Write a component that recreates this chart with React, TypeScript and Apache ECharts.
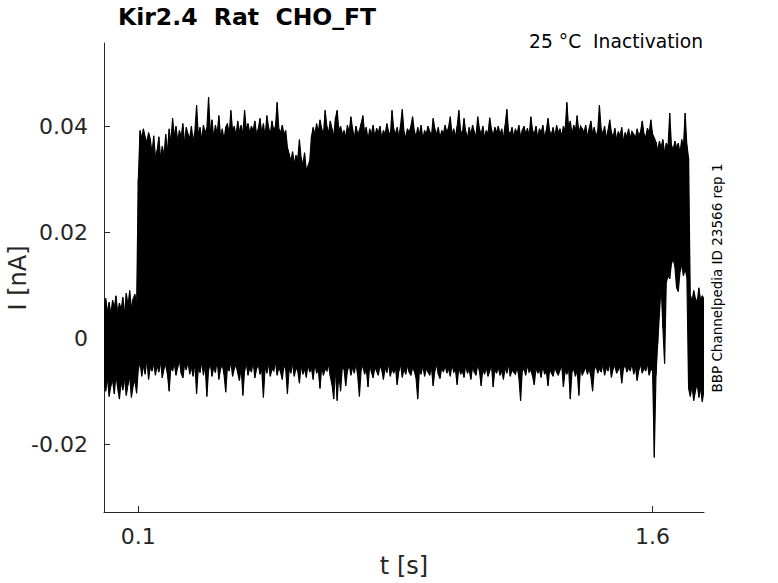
import React, { useEffect, useRef } from "react";
import * as echarts from "echarts";

// Sampling grid of the sweeps [s]
const timeStep = 0.005;
const sampleCount = 351;

// Upper envelope (max over all sweeps) of I [nA]
const upperEnvelope = [
  0.0060, 0.0075, 0.0050, 0.0068, 0.0045, 0.0072, 0.0058, 0.0080, 0.0048, 0.0066,
  0.0054, 0.0077, 0.0046, 0.0085, 0.0062, 0.0090, 0.0057, 0.0074, 0.0083, 0.0061,
  0.0300, 0.0392, 0.0378, 0.0395, 0.0380, 0.0370, 0.0388, 0.0376, 0.0350, 0.0382,
  0.0342, 0.0355, 0.0380, 0.0340, 0.0362, 0.0345, 0.0385, 0.0352, 0.0395, 0.0370,
  0.0415, 0.0382, 0.0400, 0.0372, 0.0392, 0.0380, 0.0405, 0.0368, 0.0398, 0.0385,
  0.0378, 0.0400, 0.0372, 0.0390, 0.0440, 0.0385, 0.0398, 0.0375, 0.0402, 0.0388,
  0.0396, 0.0455, 0.0390, 0.0412, 0.0378, 0.0402, 0.0385, 0.0420, 0.0380, 0.0395,
  0.0375, 0.0398, 0.0405, 0.0385, 0.0430, 0.0392, 0.0400, 0.0382, 0.0410, 0.0390,
  0.0402, 0.0385, 0.0430, 0.0395, 0.0405, 0.0388, 0.0400, 0.0392, 0.0410, 0.0385,
  0.0395, 0.0415, 0.0388, 0.0405, 0.0380, 0.0420, 0.0398, 0.0385, 0.0410, 0.0392,
  0.0400, 0.0445, 0.0395, 0.0388, 0.0402, 0.0385, 0.0392, 0.0360, 0.0348, 0.0335,
  0.0352, 0.0330, 0.0345, 0.0338, 0.0375, 0.0340, 0.0328, 0.0350, 0.0318, 0.0325,
  0.0335, 0.0380, 0.0398, 0.0385, 0.0405, 0.0390, 0.0412, 0.0395, 0.0385, 0.0430,
  0.0400, 0.0388, 0.0410, 0.0395, 0.0382, 0.0415, 0.0430, 0.0392, 0.0400, 0.0385,
  0.0392, 0.0380, 0.0402, 0.0388, 0.0418, 0.0395, 0.0378, 0.0400, 0.0385, 0.0392,
  0.0405, 0.0420, 0.0388, 0.0398, 0.0375, 0.0395, 0.0385, 0.0402, 0.0380, 0.0396,
  0.0388, 0.0400, 0.0378, 0.0392, 0.0385, 0.0405, 0.0390, 0.0382, 0.0430, 0.0395,
  0.0385, 0.0398, 0.0380, 0.0402, 0.0432, 0.0390, 0.0378, 0.0395, 0.0388, 0.0400,
  0.0418, 0.0392, 0.0380, 0.0398, 0.0385, 0.0402, 0.0376, 0.0392, 0.0385, 0.0400,
  0.0390, 0.0382, 0.0415, 0.0395, 0.0385, 0.0398, 0.0378, 0.0392, 0.0386, 0.0402,
  0.0388, 0.0398, 0.0418, 0.0385, 0.0395, 0.0380, 0.0400, 0.0430, 0.0392, 0.0385,
  0.0415, 0.0390, 0.0378, 0.0398, 0.0385, 0.0402, 0.0390, 0.0380, 0.0418, 0.0395,
  0.0385, 0.0400, 0.0378, 0.0392, 0.0386, 0.0416, 0.0395, 0.0382, 0.0398, 0.0388,
  0.0400, 0.0385, 0.0395, 0.0378, 0.0402, 0.0432, 0.0390, 0.0385, 0.0398, 0.0380,
  0.0395, 0.0386, 0.0402, 0.0380, 0.0392, 0.0400, 0.0385, 0.0396, 0.0382, 0.0418,
  0.0392, 0.0385, 0.0400, 0.0378, 0.0395, 0.0388, 0.0402, 0.0380, 0.0392, 0.0415,
  0.0390, 0.0385, 0.0398, 0.0380, 0.0402, 0.0388, 0.0395, 0.0382, 0.0400, 0.0392,
  0.0445, 0.0398, 0.0410, 0.0385, 0.0402, 0.0392, 0.0420, 0.0388, 0.0400, 0.0395,
  0.0388, 0.0402, 0.0380, 0.0395, 0.0410, 0.0386, 0.0398, 0.0380, 0.0392, 0.0440,
  0.0395, 0.0385, 0.0400, 0.0378, 0.0392, 0.0412, 0.0388, 0.0380, 0.0396, 0.0375,
  0.0390, 0.0382, 0.0398, 0.0372, 0.0388, 0.0380, 0.0395, 0.0378, 0.0390, 0.0385,
  0.0378, 0.0395, 0.0382, 0.0390, 0.0410, 0.0385, 0.0380, 0.0396, 0.0388, 0.0412,
  0.0385, 0.0378, 0.0370, 0.0355, 0.0372, 0.0360, 0.0375, 0.0350, 0.0368, 0.0362,
  0.0425, 0.0365, 0.0355, 0.0372, 0.0360, 0.0368, 0.0350, 0.0375, 0.0362, 0.0425,
  0.0365, 0.0340,
  0.0082, 0.0070, 0.0090, 0.0075, 0.0068, 0.0095, 0.0072, 0.0080, 0.0074,
];

// Lower envelope (min over all sweeps) of I [nA]
const lowerEnvelope = [
  -0.0085, -0.0100, -0.0075, -0.0110, -0.0090, -0.0080, -0.0105, -0.0070, -0.0095, -0.0115,
  -0.0082, -0.0098, -0.0076, -0.0108, -0.0088, -0.0073, -0.0112, -0.0090, -0.0080, -0.0104,
  -0.0060, -0.0045, -0.0072, -0.0052, -0.0068, -0.0040, -0.0078, -0.0055, -0.0062, -0.0048,
  -0.0070, -0.0052, -0.0064, -0.0045, -0.0075, -0.0058, -0.0050, -0.0068, -0.0100, -0.0055,
  -0.0062, -0.0048, -0.0070, -0.0055, -0.0042, -0.0066, -0.0075, -0.0050, -0.0060, -0.0045,
  -0.0068, -0.0055, -0.0072, -0.0048, -0.0105, -0.0058, -0.0065, -0.0045, -0.0070, -0.0052,
  -0.0110, -0.0060, -0.0048, -0.0072, -0.0055, -0.0065, -0.0042, -0.0078, -0.0058, -0.0050,
  -0.0068, -0.0102, -0.0055, -0.0062, -0.0045, -0.0072, -0.0058, -0.0050, -0.0066, -0.0080,
  -0.0055, -0.0108, -0.0062, -0.0048, -0.0070, -0.0056, -0.0064, -0.0045, -0.0075, -0.0058,
  -0.0050, -0.0068, -0.0060, -0.0112, -0.0055, -0.0066, -0.0048, -0.0072, -0.0058, -0.0062,
  -0.0045, -0.0070, -0.0055, -0.0064, -0.0078, -0.0050, -0.0060, -0.0105, -0.0058, -0.0066,
  -0.0048, -0.0072, -0.0056, -0.0062, -0.0085, -0.0052, -0.0068, -0.0058, -0.0074, -0.0050,
  -0.0064, -0.0056, -0.0078, -0.0048, -0.0066, -0.0060, -0.0095, -0.0054, -0.0070, -0.0058,
  -0.0062, -0.0050, -0.0072, -0.0088, -0.0115, -0.0060, -0.0118, -0.0068, -0.0100, -0.0056,
  -0.0058, -0.0090, -0.0062, -0.0050, -0.0070, -0.0055, -0.0066, -0.0048, -0.0072, -0.0110,
  -0.0060, -0.0052, -0.0068, -0.0058, -0.0092, -0.0050, -0.0064, -0.0075, -0.0055, -0.0062,
  -0.0070, -0.0052, -0.0060, -0.0078, -0.0056, -0.0065, -0.0048, -0.0072, -0.0058, -0.0066,
  -0.0055, -0.0088, -0.0062, -0.0050, -0.0074, -0.0058, -0.0068, -0.0052, -0.0064, -0.0070,
  -0.0056, -0.0062, -0.0075, -0.0115, -0.0060, -0.0068, -0.0052, -0.0072, -0.0058, -0.0064,
  -0.0070, -0.0055, -0.0090, -0.0062, -0.0050, -0.0068, -0.0076, -0.0056, -0.0064, -0.0052,
  -0.0066, -0.0058, -0.0072, -0.0050, -0.0064, -0.0060, -0.0088, -0.0055, -0.0068, -0.0062,
  -0.0074, -0.0052, -0.0066, -0.0060, -0.0078, -0.0055, -0.0064, -0.0070, -0.0050, -0.0062,
  -0.0090, -0.0058, -0.0068, -0.0055, -0.0072, -0.0062, -0.0050, -0.0092, -0.0060, -0.0066,
  -0.0055, -0.0070, -0.0062, -0.0078, -0.0056, -0.0066, -0.0050, -0.0072, -0.0060, -0.0064,
  -0.0068, -0.0055, -0.0074, -0.0118, -0.0062, -0.0058, -0.0070, -0.0052, -0.0064, -0.0060,
  -0.0072, -0.0088, -0.0056, -0.0066, -0.0060, -0.0074, -0.0052, -0.0068, -0.0062, -0.0090,
  -0.0058, -0.0066, -0.0072, -0.0055, -0.0064, -0.0070, -0.0060, -0.0052, -0.0092, -0.0062,
  -0.0068, -0.0056, -0.0115, -0.0064, -0.0058, -0.0072, -0.0060, -0.0108, -0.0054, -0.0070,
  -0.0062, -0.0055, -0.0068, -0.0058, -0.0072, -0.0100, -0.0060, -0.0052, -0.0066, -0.0058,
  -0.0064, -0.0050, -0.0070, -0.0056, -0.0062, -0.0048, -0.0074, -0.0058, -0.0052, -0.0066,
  -0.0060, -0.0054, -0.0085, -0.0058, -0.0050, -0.0064, -0.0056, -0.0062, -0.0048, -0.0068,
  -0.0055, -0.0080, -0.0060, -0.0050, -0.0066, -0.0056, -0.0062, -0.0048, -0.0070, -0.0058,
  -0.0062, -0.0225, -0.0070, -0.0010, 0.0045, 0.0100, 0.0020, -0.0048, 0.0105, 0.0118,
  0.0112, 0.0140, 0.0150, 0.0135, 0.0095, 0.0088, 0.0125, 0.0138, 0.0118, 0.0130,
  0.0115, -0.0095,
  -0.0110, -0.0090, -0.0118, -0.0100, -0.0085, -0.0112, -0.0095, -0.0120, -0.0098,
];

const xTicks = [0.1, 1.6];
const yTicks = [-0.02, 0, 0.02, 0.04];
const yTickLabels = ["-0.02", "0", "0.02", "0.04"];

const FONT = "DejaVu Sans";
const INK = "#262626";

export default function App() {
  const ref = useRef<HTMLDivElement>(null);

  useEffect(() => {
    document.body.style.margin = "0";
    const chart = echarts.init(ref.current as HTMLDivElement, null, { renderer: "svg" });

    const time: number[] = [];
    for (let i = 0; i < sampleCount; i++) time.push(Math.round(i * timeStep * 1000) / 1000);

    // one item per sample interval: [t0, min0, max0, t1, min1, max1]
    const bandData: number[][] = [];
    for (let i = 0; i < sampleCount - 1; i++) {
      bandData.push([
        time[i], lowerEnvelope[i], upperEnvelope[i],
        time[i + 1], lowerEnvelope[i + 1], upperEnvelope[i + 1],
      ]);
    }

    chart.setOption({
      animation: false,
      backgroundColor: "#ffffff",
      title: {
        text: "Kir2.4  Rat  CHO_FT",
        left: 118,
        top: 5,
        padding: 0,
        textStyle: { fontFamily: FONT, fontWeight: "bold", fontSize: 23.5, color: "#000" },
      },
      grid: {
        left: 104, right: 74, top: 43, bottom: 71,
        containLabel: false,
        outerBoundsMode: "none",
      },
      xAxis: {
        type: "value",
        min: 0,
        max: 1.75,
        splitLine: { show: false },
        axisLine: { show: true, onZero: false, lineStyle: { color: INK, width: 1 } },
        axisTick: { show: true, inside: true, length: 6, customValues: xTicks, lineStyle: { color: INK } },
        axisLabel: {
          customValues: xTicks,
          fontFamily: FONT,
          fontSize: 22,
          color: INK,
          margin: 13,
          formatter: (v: number) => String(v),
        },
        name: "t [s]",
        nameLocation: "middle",
        nameGap: 42,
        nameTextStyle: { fontFamily: FONT, fontSize: 24, color: INK },
      },
      yAxis: {
        type: "value",
        min: -0.0328,
        max: 0.0557,
        splitLine: { show: false },
        axisLine: { show: true, onZero: false, lineStyle: { color: INK, width: 1 } },
        axisTick: { show: true, inside: true, length: 6, customValues: yTicks, lineStyle: { color: INK } },
        axisLabel: {
          customValues: yTicks,
          fontFamily: FONT,
          fontSize: 22,
          color: INK,
          margin: 16,
          formatter: (v: number) => {
            const k = yTicks.findIndex((t) => Math.abs(t - v) < 1e-9);
            return k >= 0 ? yTickLabels[k] : String(v);
          },
        },
      },
      graphic: [
        {
          type: "text",
          x: 18,
          y: 278,
          rotation: Math.PI / 2,
          style: {
            text: "I [nA]",
            font: `24px "${FONT}"`,
            fill: INK,
            textAlign: "center",
            textVerticalAlign: "middle",
          },
        },
        {
          type: "text",
          x: 703,
          y: 41,
          style: {
            text: "25 °C  Inactivation",
            font: `18.7px "${FONT}"`,
            fill: "#000",
            textAlign: "right",
            textVerticalAlign: "middle",
          },
        },
        {
          type: "text",
          x: 717,
          y: 278,
          rotation: Math.PI / 2,
          style: {
            text: "BBP Channelpedia ID 23566 rep 1",
            font: `13.5px "${FONT}"`,
            fill: "#000",
            textAlign: "center",
            textVerticalAlign: "middle",
          },
        },
      ],
      series: [
        {
          name: "current sweeps (min–max)",
          type: "custom",
          data: bandData,
          encode: { x: [0, 3], y: [1, 2, 4, 5] },
          clip: true,
          renderItem: (params: any, api: any) => {
            const p0 = api.coord([api.value(0), api.value(1)]);
            const q0 = api.coord([api.value(0), api.value(2)]);
            const p1 = api.coord([api.value(3), api.value(4)]);
            const q1 = api.coord([api.value(3), api.value(5)]);
            return {
              type: "polygon",
              shape: { points: [p0, q0, q1, p1] },
              style: { fill: "#000", stroke: "#000", lineWidth: 1.1 },
            };
          },
          z: 3,
        },
      ],
    });

    return () => chart.dispose();
  }, []);

  return <div ref={ref} style={{ width: 778, height: 583 }} />;
}
